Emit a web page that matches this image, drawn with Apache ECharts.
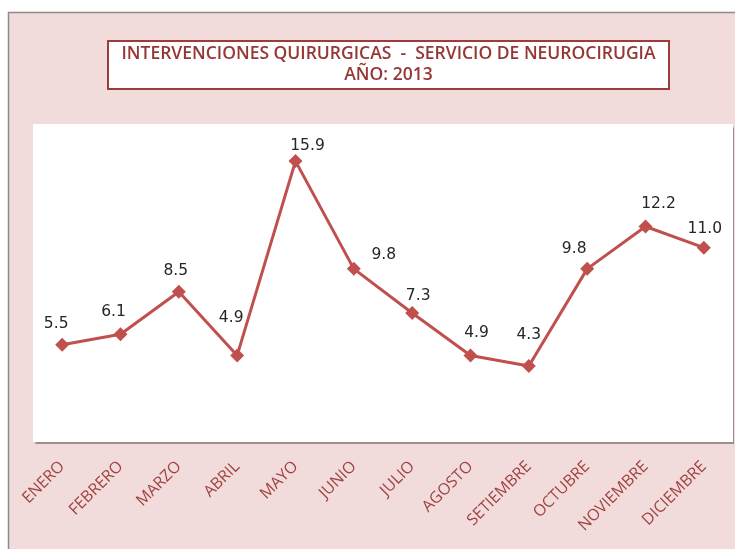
<!DOCTYPE html>
<html><head><meta charset="utf-8">
<script src="https://cdn.jsdelivr.net/npm/echarts@6/dist/echarts.min.js"></script>
<style>html,body{margin:0;padding:0;background:#fff}#c{width:735px;height:549px}</style>
</head><body><div id="c"></div>
<script>
const categories = ['ENERO','FEBRERO','MARZO','ABRIL','MAYO','JUNIO','JULIO','AGOSTO','SETIEMBRE','OCTUBRE','NOVIEMBRE','DICIEMBRE'];
const values = [5.5, 6.1, 8.5, 4.9, 15.9, 9.8, 7.3, 4.9, 4.3, 9.8, 12.2, 11.0];
const titleLine1 = 'INTERVENCIONES QUIRURGICAS  -  SERVICIO DE NEUROCIRUGIA';
const titleLine2 = 'AÑO: 2013';
// manual label nudges (style only), [dx, dy] relative to the default 'top' position
const labelOffsets = [[-6,-1],[-7,-2],[-3,-1],[-6,-17],[12,5],[30,6],[6,3],[6,-2],[0,-11],[-13,0],[13,-2],[1,1]];

const chart = echarts.init(document.getElementById('c'));
chart.setOption({
  animation: false,
  backgroundColor: '#ffffff',
  graphic: [
    { type: 'rect', z: -10, shape: { x: 8.5, y: 12.5, width: 740, height: 550 },
      style: { fill: '#f2dcdb', stroke: '#8c8c8c', lineWidth: 1.5 } },
    { type: 'rect', z: -5, shape: { x: 33, y: 124, width: 700, height: 318 },
      style: { fill: '#ffffff', shadowColor: 'rgba(0,0,0,0.35)', shadowOffsetY: 1.5, shadowOffsetX: 0.5, shadowBlur: 1 } },
    { type: 'rect', z: 10, shape: { x: 108, y: 41, width: 561, height: 48 },
      style: { fill: '#ffffff', stroke: '#9b3b3a', lineWidth: 2 } },
    { type: 'text', z: 11, x: 388.5, y: 44,
      style: { text: titleLine1 + '\n' + titleLine2, fill: '#953735', font: '600 17.5px "Open Sans", sans-serif',
        align: 'center', verticalAlign: 'top', lineHeight: 21 } }
  ],
  grid: { left: 33, right: 2, top: 124, bottom: 107, containLabel: false },
  xAxis: {
    type: 'category', data: categories, boundaryGap: true,
    axisLine: { show: false }, axisTick: { show: false },
    axisLabel: { rotate: 45, color: '#a04242', fontSize: 16, fontFamily: '"Open Sans", sans-serif', margin: 22, interval: 0 }
  },
  yAxis: {
    type: 'value', min: 0, max: 18,
    axisLine: { show: false }, axisTick: { show: false }, axisLabel: { show: false },
    splitLine: { show: false }
  },
  series: [{
    type: 'line',
    data: values.map((v, i) => ({ value: v, label: { offset: labelOffsets[i] } })),
    lineStyle: { color: '#c0504d', width: 3 },
    itemStyle: { color: '#c0504d' },
    symbol: 'diamond', symbolSize: 14,
    label: { show: true, position: 'top', distance: 5, color: '#262626', fontSize: 15.5,
      fontFamily: '"DejaVu Sans", sans-serif', formatter: p => p.value.toFixed(1) }
  }]
});
</script></body></html>
